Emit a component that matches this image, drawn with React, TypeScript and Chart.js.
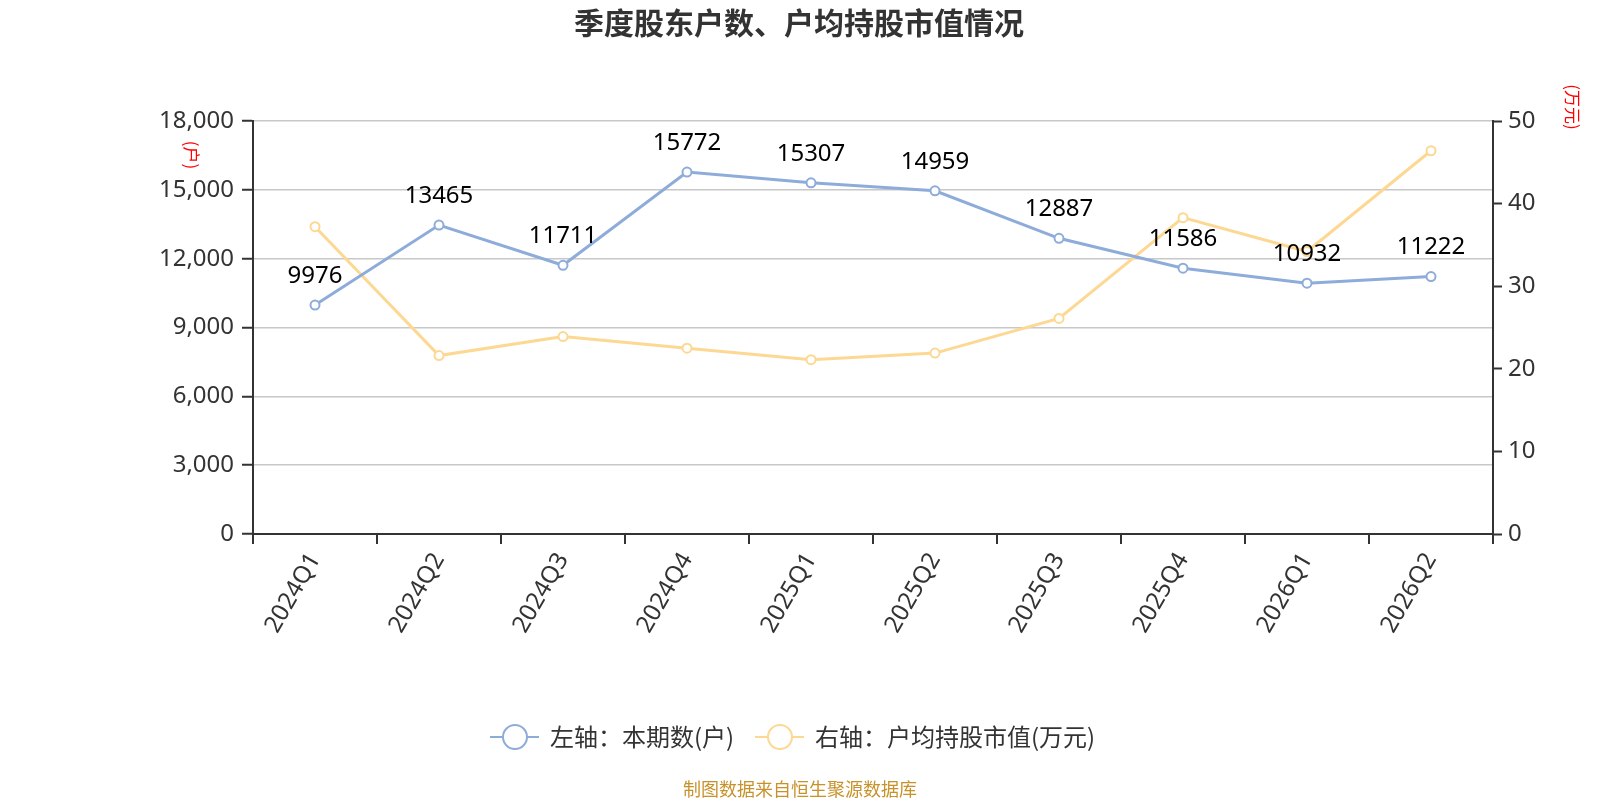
import React, { useEffect, useRef } from "react";
import { Chart, registerables } from "chart.js";

Chart.register(...registerables);

const quarters = ["2024Q1", "2024Q2", "2024Q3", "2024Q4", "2025Q1", "2025Q2", "2025Q3", "2025Q4", "2026Q1", "2026Q2"];
const holders = [9976, 13465, 11711, 15772, 15307, 14959, 12887, 11586, 10932, 11222];
const avgValue = [37.2, 21.6, 23.9, 22.5, 21.1, 21.9, 26.1, 38.3, 34.2, 46.4];

const FONT = "'Noto Sans', 'Noto Sans CJK SC', sans-serif";
const CJK = "'Noto Sans CJK SC', sans-serif";
const BLUE = "#8eacda";
const ORANGE = "#fdd893";

const extras = {
  id: "extras",
  afterDatasetsDraw(chart: any) {
    const ctx = chart.ctx;
    ctx.save();
    // value labels above the left-axis series
    const meta = chart.getDatasetMeta(0);
    ctx.font = `24px ${FONT}`;
    ctx.fillStyle = "#000";
    ctx.textAlign = "center";
    ctx.textBaseline = "middle";
    meta.data.forEach((pt: any, i: number) => {
      ctx.fillText(String(holders[i]), pt.x, pt.y - 29);
    });
    ctx.restore();
  },
  afterDraw(chart: any) {
    const ctx = chart.ctx;
    ctx.save();
    // title
    ctx.font = `bold 30px ${CJK}`;
    ctx.fillStyle = "#333";
    ctx.textAlign = "center";
    ctx.textBaseline = "middle";
    ctx.fillText("季度股东户数、户均持股市值情况", 799, 23);

    // axis units, rotated
    ctx.font = `17px ${CJK}`;
    ctx.fillStyle = "#f00";
    ctx.save();
    ctx.translate(191, 155);
    ctx.rotate(Math.PI / 2);
    ctx.fillText("(户)", 0, 0);
    ctx.restore();
    ctx.save();
    ctx.translate(1572, 107);
    ctx.rotate(Math.PI / 2);
    ctx.fillText("(万元)", 0, 0);
    ctx.restore();

    // legend
    const items = [
      { color: BLUE, text: "左轴：本期数(户)", x: 490 },
      { color: ORANGE, text: "右轴：户均持股市值(万元)", x: 755 },
    ];
    const ly = 737;
    ctx.font = `24px ${CJK}`;
    ctx.textAlign = "left";
    items.forEach((it) => {
      ctx.strokeStyle = it.color;
      ctx.lineWidth = 2;
      ctx.beginPath();
      ctx.moveTo(it.x, ly);
      ctx.lineTo(it.x + 49, ly);
      ctx.stroke();
      ctx.beginPath();
      ctx.arc(it.x + 25, ly, 12, 0, Math.PI * 2);
      ctx.fillStyle = "#fff";
      ctx.fill();
      ctx.stroke();
      ctx.fillStyle = "#333";
      ctx.fillText(it.text, it.x + 60, ly);
    });

    // source note
    ctx.font = `18px ${CJK}`;
    ctx.fillStyle = "#c8922a";
    ctx.textAlign = "center";
    ctx.fillText("制图数据来自恒生聚源数据库", 800, 789);
    ctx.restore();
  },
};

export default function App() {
  const canvasRef = useRef<HTMLCanvasElement | null>(null);

  useEffect(() => {
    document.body.style.margin = "0";
    if (!canvasRef.current) return;
    const chart = new Chart(canvasRef.current, {
      type: "line",
      data: {
        labels: quarters,
        datasets: [
          {
            label: "左轴：本期数(户)",
            data: holders,
            yAxisID: "y",
            borderColor: BLUE,
            backgroundColor: "#fff",
            borderWidth: 3,
            pointRadius: 4.5,
            pointBorderWidth: 2,
            pointBackgroundColor: "#fff",
            pointBorderColor: BLUE,
            tension: 0,
          },
          {
            label: "右轴：户均持股市值(万元)",
            data: avgValue,
            yAxisID: "y1",
            borderColor: ORANGE,
            backgroundColor: "#fff",
            borderWidth: 3,
            pointRadius: 4.5,
            pointBorderWidth: 2,
            pointBackgroundColor: "#fff",
            pointBorderColor: ORANGE,
            tension: 0,
          },
        ],
      },
      options: {
        responsive: false,
        animation: false,
        layout: { padding: { top: 121, left: 0, right: 0, bottom: 0 } },
        plugins: {
          legend: { display: false },
          title: { display: false },
          tooltip: { enabled: false },
        },
        scales: {
          x: {
            offset: true,
            afterFit: (s: any) => {
              s.height = 800 - 534;
            },
            grid: {
              display: true,
              drawOnChartArea: false,
              drawTicks: true,
              offset: true,
              tickLength: 10,
              color: "#333",
              lineWidth: 2,
            },
            border: { display: true, color: "#333", width: 2 },
            ticks: {
              maxRotation: 60,
              minRotation: 60,
              color: "#333",
              font: { size: 24, family: FONT },
              padding: 4,
            },
          },
          y: {
            position: "left",
            min: 0,
            max: 18000,
            afterFit: (s: any) => {
              s.width = 253;
            },
            ticks: {
              stepSize: 3000,
              color: "#333",
              font: { size: 24, family: FONT },
              padding: 8,
              callback: (v: any) => Number(v).toLocaleString("en-US"),
            },
            grid: {
              color: "#c8c8c8",
              lineWidth: 1.5,
              tickLength: 11,
              tickColor: "#333",
              tickWidth: 2,
            },
            border: { display: true, color: "#333", width: 2 },
          },
          y1: {
            position: "right",
            min: 0,
            max: 50,
            afterFit: (s: any) => {
              s.width = 107;
            },
            ticks: {
              stepSize: 10,
              color: "#333",
              font: { size: 24, family: FONT },
              padding: 6,
            },
            grid: {
              drawOnChartArea: false,
              tickLength: 9,
              tickColor: "#333",
              tickWidth: 2,
            },
            border: { display: true, color: "#333", width: 2 },
          },
        },
      },
      plugins: [extras],
    });
    return () => chart.destroy();
  }, []);

  return (
    <div style={{ width: 1600, height: 800, background: "#fff" }}>
      <canvas ref={canvasRef} width={1600} height={800} />
    </div>
  );
}
